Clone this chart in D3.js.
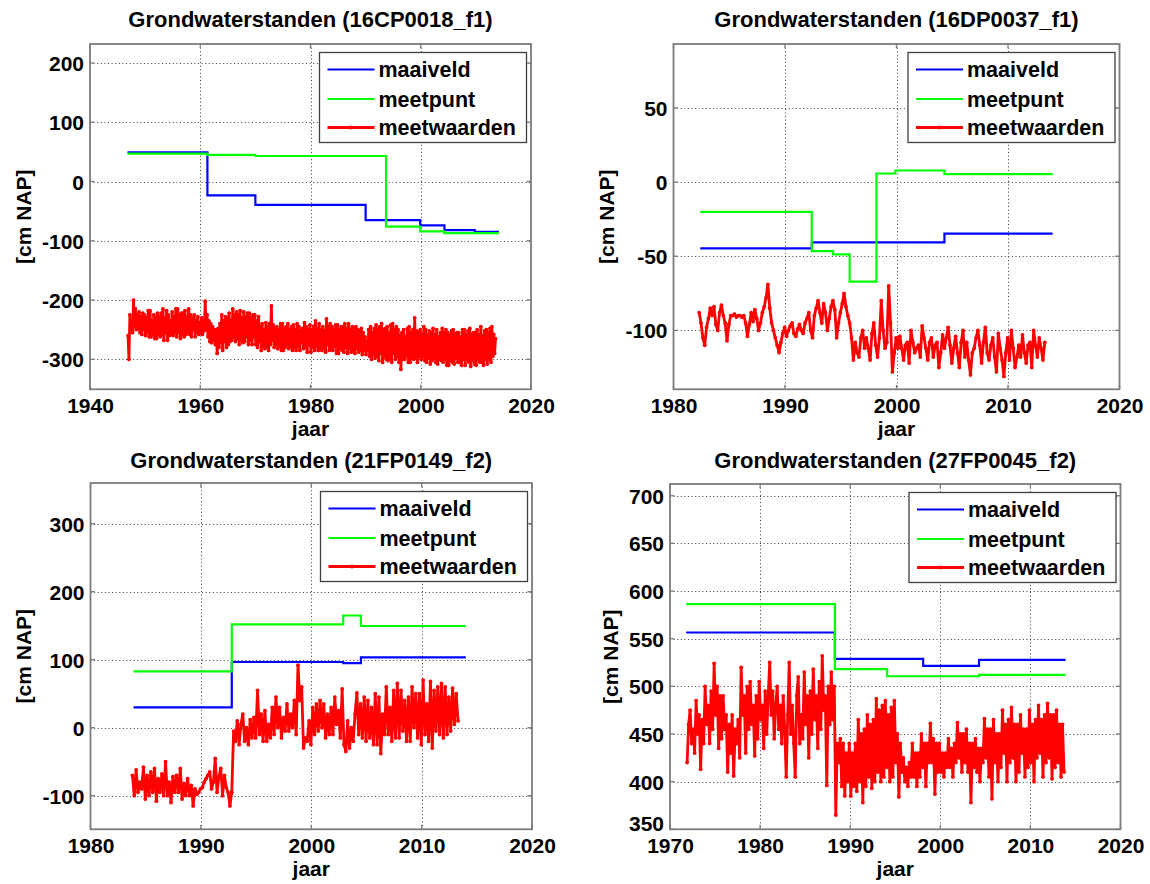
<!DOCTYPE html>
<html><head><meta charset="utf-8">
<script src="https://cdn.jsdelivr.net/npm/d3@7"></script>
<style>
body{margin:0;background:#fff}
svg text{font-family:"Liberation Sans",Arial,sans-serif;font-weight:bold;fill:#000}
</style>
</head><body>
<svg id="c" width="1150" height="884"></svg>
<script>
// ---------- shared ----------
const seriesNames = ["maaiveld", "meetpunt", "meetwaarden"];
const xLabel = "jaar";
const yLabel = "[cm NAP]";

// ---------- panel 1 : 16CP0018_f1 ----------
const p1Title = "Grondwaterstanden (16CP0018_f1)";
const p1XTicks = [1940, 1960, 1980, 2000, 2020];
const p1YTicks = [-300, -200, -100, 0, 100, 200];
const p1XDomain = [1940, 2020];
const p1YDomain = [-350.6, 232];
const p1MaaiveldYears = [1946.8, 1961.3, 1970.0, 1990.0, 1999.9, 2004.3, 2009.8, 2014.2];
const p1MaaiveldValues = [49, -23.5, -39.4, -65, -74, -82, -85, -85];
const p1MeetpuntYears = [1946.8, 1961.3, 1970.0, 1993.7, 1999.9, 2004.3, 2014.2];
const p1MeetpuntValues = [47, 45, 43, -76, -84, -87, -87];
const p1RedStart = 1946.9, p1RedStep = 1 / 6;
const p1Red = [
  -260,-300,-225,-250,-235,-255,  -200,-245,-215,-250,-225,-248,  -220,-255,-228,-258,-222,-250,
  -225,-260,-230,-255,-218,-262,  -218,-262,-235,-258,-225,-265,  -230,-265,-222,-258,-228,-262,
  -222,-258,-215,-268,-230,-255,  -218,-268,-225,-260,-235,-256,  -220,-260,-228,-255,-215,-262,
  -215,-255,-225,-265,-222,-258,  -222,-262,-218,-258,-228,-255,  -215,-258,-225,-262,-230,-250,
  -225,-262,-235,-255,-228,-258,  -238,-255,-230,-258,-235,-252,  -202,-250,-225,-262,-235,-270,
  -240,-272,-245,-268,-250,-275,  -250,-290,-248,-280,-240,-272,  -225,-285,-235,-270,-228,-280,
  -230,-275,-222,-270,-235,-268,  -215,-262,-225,-270,-220,-265,  -225,-275,-218,-268,-230,-272,
  -220,-270,-228,-262,-222,-275,  -222,-268,-230,-275,-225,-262,  -225,-275,-235,-280,-228,-270,
  -245,-285,-240,-278,-250,-282,  -238,-278,-245,-285,-240,-275,  -210,-268,-242,-280,-248,-275,
  -245,-282,-250,-278,-240,-285,  -240,-285,-248,-280,-245,-275,  -240,-282,-250,-278,-245,-285,
  -242,-280,-250,-285,-240,-278,  -245,-285,-252,-272,-248,-282,  -238,-280,-245,-288,-250,-275,
  -242,-288,-250,-280,-244,-285,  -235,-278,-248,-285,-240,-280,  -250,-285,-245,-280,-252,-288,
  -232,-275,-245,-285,-240,-282,  -245,-285,-250,-278,-242,-290,  -242,-290,-250,-282,-245,-285,
  -245,-288,-240,-280,-248,-290,  -240,-282,-250,-288,-245,-285,  -248,-290,-245,-282,-250,-288,
  -252,-285,-248,-292,-255,-285,  -262,-292,-270,-285,-250,-295,  -245,-300,-255,-292,-248,-298,
  -242,-295,-250,-302,-245,-290,  -240,-305,-250,-295,-248,-300,  -245,-302,-255,-298,-242,-305,
  -240,-290,-250,-300,-245,-295,  -250,-305,-260,-317,-255,-300,  -250,-300,-262,-295,-248,-305,
  -245,-305,-255,-298,-250,-300,  -230,-298,-252,-305,-255,-295,  -250,-300,-258,-295,-245,-302,
  -250,-305,-258,-298,-252,-308,  -255,-302,-248,-298,-258,-305,  -250,-308,-262,-300,-255,-302,
  -248,-305,-255,-300,-250,-310,  -255,-310,-260,-302,-252,-305,  -250,-308,-258,-298,-255,-305,
  -255,-305,-262,-310,-250,-300,  -250,-310,-258,-300,-252,-305,  -248,-312,-258,-302,-255,-308,
  -255,-310,-250,-300,-258,-305,  -245,-305,-260,-310,-252,-300,  -250,-308,-255,-300,-248,-305,
  -245,-295,-258,-290,-265
];

// ---------- panel 2 : 16DP0037_f1 ----------
const p2Title = "Grondwaterstanden (16DP0037_f1)";
const p2XTicks = [1980, 1990, 2000, 2010, 2020];
const p2YTicks = [-100, -50, 0, 50];
const p2XDomain = [1980, 2020];
const p2YDomain = [-139.7, 93.1];
const p2MaaiveldYears = [1982.4, 1992.4, 2004.3, 2014.0];
const p2MaaiveldValues = [-44.7, -40.7, -34.7, -34.7];
const p2MeetpuntYears = [1982.4, 1992.4, 1994.3, 1995.8, 1998.2, 1999.9, 2004.3, 2014.0];
const p2MeetpuntValues = [-20.1, -46.5, -48.8, -67.1, 5.8, 7.8, 5.4, 5.4];
const p2RedStart = 1982.3, p2RedStep = 1 / 6;
const p2Red = [
  -88,-95,-105,-110,-98,-92,  -85,-90,-84,-96,-100,-88,  -83,-90,-95,-107,-96,-90,
  -90,-89,-91,-90,-90,-91,  -90,-95,-104,-96,-88,-94,  -86,-92,-100,-95,-88,-84,
  -78,-69,-85,-95,-100,-105,  -110,-115,-108,-102,-98,-104,  -100,-97,-95,-102,-104,-99,
  -96,-100,-102,-95,-92,-88,  -100,-105,-90,-85,-80,-88,  -95,-82,-88,-100,-92,-84,
  -80,-86,-105,-95,-88,-82,  -75,-84,-90,-95,-105,-120,  -108,-115,-118,-105,-100,-112,
  -105,-112,-120,-102,-95,-110,  -118,-105,-80,-100,-112,-108,  -70,-95,-128,-115,-105,-112,
  -104,-112,-120,-110,-108,-122,  -100,-108,-115,-112,-110,-118,  -97,-105,-112,-120,-108,-105,
  -118,-110,-108,-125,-115,-103,  -112,-105,-98,-110,-122,-112,  -104,-115,-125,-108,-100,-118,
  -108,-120,-130,-115,-112,-105,  -100,-110,-122,-108,-98,-115,  -120,-110,-105,-118,-128,-102,
  -112,-120,-131,-115,-105,-120,  -100,-112,-125,-118,-110,-118,  -103,-115,-122,-110,-108,-125,
  -100,-110,-118,-105,-112,-120,  -108
];

// ---------- panel 3 : 21FP0149_f2 ----------
const p3Title = "Grondwaterstanden (21FP0149_f2)";
const p3XTicks = [1980, 1990, 2000, 2010, 2020];
const p3YTicks = [-100, 0, 100, 200, 300];
const p3XDomain = [1980, 2020];
const p3YDomain = [-149.4, 359.8];
const p3MaaiveldYears = [1983.9, 1992.8, 2002.9, 2004.5, 2014.0];
const p3MaaiveldValues = [29.9, 96.6, 95, 103.4, 103.4];
const p3MeetpuntYears = [1983.9, 1992.8, 2002.9, 2004.5, 2014.0];
const p3MeetpuntValues = [82.8, 152, 165, 149.5, 149.5];
const p3RedStart = 1983.8, p3RedStep = 1 / 6;
const p3Red = [
  -70,-100,-62,-95,-80,-90,  -58,-105,-70,-100,-65,-95,  -60,-108,-75,-95,-68,-100,
  -50,-100,-80,-110,-72,-95,  -70,-95,-60,-105,-82,-100,  -75,-100,-85,-115,-90,-98,
  -95,-90,-88,-80,-75,-70,  -65,-90,-80,-45,-95,-72,  -60,-100,-70,-88,-95,-115,
  -95,-5,-20,10,-25,5,  20,-20,0,-25,12,-15,  15,-15,55,-10,20,-20,
  25,-20,5,-15,30,-10,  45,0,30,-15,15,-5,  35,-5,20,0,40,-10,
  92,40,60,-30,-15,-20,  10,-25,30,-10,35,-5,  40,0,35,-15,20,-10,
  30,-10,45,5,25,-15,  57,-25,-35,10,-30,0,  -20,20,51,-10,35,-15,
  45,-20,40,-15,30,-25,  50,-25,45,-38,20,-10,  60,-10,30,-20,55,-15,
  65,-15,55,-5,40,-20,  45,-20,60,0,50,-15,  50,-25,70,-10,35,-20,
  68,-30,55,-5,60,-10,  65,-15,60,-10,45,-5,  58,5,50,10
];

// ---------- panel 4 : 27FP0045_f2 ----------
const p4Title = "Grondwaterstanden (27FP0045_f2)";
const p4XTicks = [1970, 1980, 1990, 2000, 2010, 2020];
const p4YTicks = [350, 400, 450, 500, 550, 600, 650, 700];
const p4XDomain = [1970, 2020];
const p4YDomain = [350, 712.3];
const p4MaaiveldYears = [1971.8, 1988.3, 1998.1, 2004.3, 2013.9];
const p4MaaiveldValues = [556.5, 528.8, 521.5, 527.8, 527.8];
const p4MeetpuntYears = [1971.8, 1988.3, 1994.1, 2004.3, 2013.9];
const p4MeetpuntValues = [586.2, 518, 510.6, 512, 512];
const p4RedStart = 1971.9, p4RedStep = 1 / 6;
const p4Red = [
  420,460,475,440,455,430,  485,450,470,413,465,440,  500,460,480,440,495,455,
  524,470,500,435,490,445,  490,455,470,410,460,430,  470,406,455,440,465,425,
  520,470,490,430,500,455,  505,460,480,427,490,445,  505,465,480,435,495,450,
  490,525,470,495,445,480,  500,455,480,440,490,455,  405,470,525,450,480,440,
  405,490,510,440,470,445,  515,460,490,425,495,450,  518,465,490,435,505,455,
  532,475,490,396,500,460,  515,465,500,365,440,420,  445,395,440,385,430,400,
  440,385,430,395,440,390,  465,400,450,378,455,395,  470,405,460,393,465,400,
  487,410,475,400,480,405,  485,415,470,400,478,405,  485,420,450,384,440,410,
  425,400,415,395,420,405,  440,405,430,395,430,405,  450,415,440,395,440,420,
  461,420,445,387,440,410,  440,410,430,405,430,415,  445,415,435,405,440,420,
  462,425,450,410,450,420,  455,410,440,378,440,415,  445,410,435,400,435,420,
  466,425,455,405,455,382,  465,420,450,400,450,415,  475,430,460,400,465,420,
  478,425,460,400,460,410,  470,430,455,405,455,415,  475,420,460,400,465,425,
  480,430,465,405,470,420,  482,425,470,403,470,415,  475,420,460,405,460,410
];

// ---------- drawing ----------
const svg = d3.select("#c");
svg.append("rect").attr("width", 1150).attr("height", 884).attr("fill", "#fff");

const panels = [
  {box: [90, 44, 531, 389.3], title: p1Title, titleY: 26.7, ylabX: 31, xDomain: p1XDomain, yDomain: p1YDomain,
   xTicks: p1XTicks, yTicks: p1YTicks, mvY: p1MaaiveldYears, mvV: p1MaaiveldValues,
   mpY: p1MeetpuntYears, mpV: p1MeetpuntValues, redStart: p1RedStart, redStep: p1RedStep, red: p1Red},
  {box: [673.5, 44, 1119.5, 389.3], title: p2Title, titleY: 26.7, ylabX: 614, xDomain: p2XDomain, yDomain: p2YDomain,
   xTicks: p2XTicks, yTicks: p2YTicks, mvY: p2MaaiveldYears, mvV: p2MaaiveldValues,
   mpY: p2MeetpuntYears, mpV: p2MeetpuntValues, redStart: p2RedStart, redStep: p2RedStep, red: p2Red},
  {box: [90.5, 483, 532, 829.3], title: p3Title, titleY: 467.5, ylabX: 31, xDomain: p3XDomain, yDomain: p3YDomain,
   xTicks: p3XTicks, yTicks: p3YTicks, mvY: p3MaaiveldYears, mvV: p3MaaiveldValues,
   mpY: p3MeetpuntYears, mpV: p3MeetpuntValues, redStart: p3RedStart, redStep: p3RedStep, red: p3Red},
  {box: [670, 484, 1120.5, 829.3], title: p4Title, titleY: 468, ylabX: 617.5, xDomain: p4XDomain, yDomain: p4YDomain,
   xTicks: p4XTicks, yTicks: p4YTicks, mvY: p4MaaiveldYears, mvV: p4MaaiveldValues,
   mpY: p4MeetpuntYears, mpV: p4MeetpuntValues, redStart: p4RedStart, redStep: p4RedStep, red: p4Red}
];

const FS = 21;
const colors = ["#0000ff", "#00ff00", "#ff0000"];
const fmt = d => String(d);

panels.forEach(c => {
  const [L, T, R, B] = c.box;
  const g = svg.append("g");
  const x = d3.scaleLinear().domain(c.xDomain).range([L, R]);
  const y = d3.scaleLinear().domain(c.yDomain).range([B, T]);

  // grid
  const gridStyle = sel => sel.attr("stroke", "#3c3c3c").attr("stroke-width", 1)
    .attr("stroke-dasharray", "1,2.6").attr("fill", "none");
  g.append("g").selectAll("line").data(c.xTicks.filter(t => t > c.xDomain[0] && t < c.xDomain[1]))
    .join("line").attr("x1", d => Math.round(x(d)) + 0.5).attr("x2", d => Math.round(x(d)) + 0.5)
    .attr("y1", T).attr("y2", B).call(gridStyle);
  g.append("g").selectAll("line").data(c.yTicks.filter(t => t > c.yDomain[0] && t < c.yDomain[1]))
    .join("line").attr("y1", d => Math.round(y(d)) + 0.5).attr("y2", d => Math.round(y(d)) + 0.5)
    .attr("x1", L).attr("x2", R).call(gridStyle);

  // step series
  const step = d3.line().x(d => x(d[0])).y(d => y(d[1])).curve(d3.curveStepAfter);
  g.append("path").datum(d3.zip(c.mvY, c.mvV)).attr("d", step)
    .attr("fill", "none").attr("stroke", colors[0]).attr("stroke-width", 2.2);
  g.append("path").datum(d3.zip(c.mpY, c.mpV)).attr("d", step)
    .attr("fill", "none").attr("stroke", colors[1]).attr("stroke-width", 2.2);

  // measurements
  const pts = c.red.map((v, i) => [c.redStart + i * c.redStep, v]);
  const ln = d3.line().x(d => x(d[0])).y(d => y(d[1]));
  g.append("path").datum(pts).attr("d", ln).attr("fill", "none")
    .attr("stroke", colors[2]).attr("stroke-width", 2.8).attr("stroke-linejoin", "round");
  g.append("g").selectAll("circle").data(pts).join("circle")
    .attr("cx", d => x(d[0])).attr("cy", d => y(d[1])).attr("r", 1.9).attr("fill", colors[2]);

  // axes labels via d3 axes
  const ax = g.append("g").attr("transform", `translate(0,${B})`)
    .call(d3.axisBottom(x).tickValues(c.xTicks).tickFormat(fmt).tickSize(0).tickPadding(9));
  const ay = g.append("g").attr("transform", `translate(${L},0)`)
    .call(d3.axisLeft(y).tickValues(c.yTicks).tickFormat(fmt).tickSize(0).tickPadding(6));
  [ax, ay].forEach(a => {
    a.select(".domain").remove();
    a.attr("font-size", null).attr("font-family", null);
    a.selectAll("text").style("font-size", FS + "px").style("font-weight", "bold").attr("fill", "#000");
  });
  ay.selectAll("text").attr("dy", d => (d === c.yDomain[0] ? "0.05em" : "0.36em"));

  // box and inner ticks
  g.append("rect").attr("x", L).attr("y", T).attr("width", R - L).attr("height", B - T)
    .attr("fill", "none").attr("stroke", "#7c7c7c").attr("stroke-width", 1.8);
  const tl = 4.5, tickCol = "#7c7c7c";
  c.xTicks.forEach(t => {
    g.append("line").attr("x1", x(t)).attr("x2", x(t)).attr("y1", B).attr("y2", B - tl).attr("stroke", tickCol).attr("stroke-width", 1.3);
    g.append("line").attr("x1", x(t)).attr("x2", x(t)).attr("y1", T).attr("y2", T + tl).attr("stroke", tickCol).attr("stroke-width", 1.3);
  });
  c.yTicks.forEach(t => {
    g.append("line").attr("y1", y(t)).attr("y2", y(t)).attr("x1", L).attr("x2", L + tl).attr("stroke", tickCol).attr("stroke-width", 1.3);
    g.append("line").attr("y1", y(t)).attr("y2", y(t)).attr("x1", R).attr("x2", R - tl).attr("stroke", tickCol).attr("stroke-width", 1.3);
  });

  // title and axis labels
  g.append("text").attr("x", (L + R) / 2).attr("y", c.titleY).attr("text-anchor", "middle")
    .style("font-size", "22px").text(c.title);
  g.append("text").attr("x", (L + R) / 2).attr("y", B + 47).attr("text-anchor", "middle")
    .style("font-size", FS + "px").text(xLabel);
  g.append("text").attr("transform", `translate(${c.ylabX},${(T + B) / 2}) rotate(-90)`)
    .attr("text-anchor", "middle").style("font-size", FS + "px").text(yLabel);

  // legend
  const lw = 207, lh = 90;
  const lg = g.append("g").attr("transform", `translate(${R - 4.5 - lw},${T + 8.5})`);
  lg.append("rect").attr("width", lw).attr("height", lh).attr("fill", "#fff")
    .attr("stroke", "#404040").attr("stroke-width", 1.3);
  const rows = [17, 46.5, 75];
  seriesNames.forEach((name, i) => {
    lg.append("line").attr("x1", 8).attr("x2", 55).attr("y1", rows[i]).attr("y2", rows[i])
      .attr("stroke", colors[i]).attr("stroke-width", i === 2 ? 2.8 : 2.2);
    if (i === 2) lg.append("circle").attr("cx", 31.5).attr("cy", rows[i]).attr("r", 2).attr("fill", colors[i]);
    lg.append("text").attr("x", 59).attr("y", rows[i] + 7.5).style("font-size", "21.5px").text(name);
  });
});
</script>
</body></html>
